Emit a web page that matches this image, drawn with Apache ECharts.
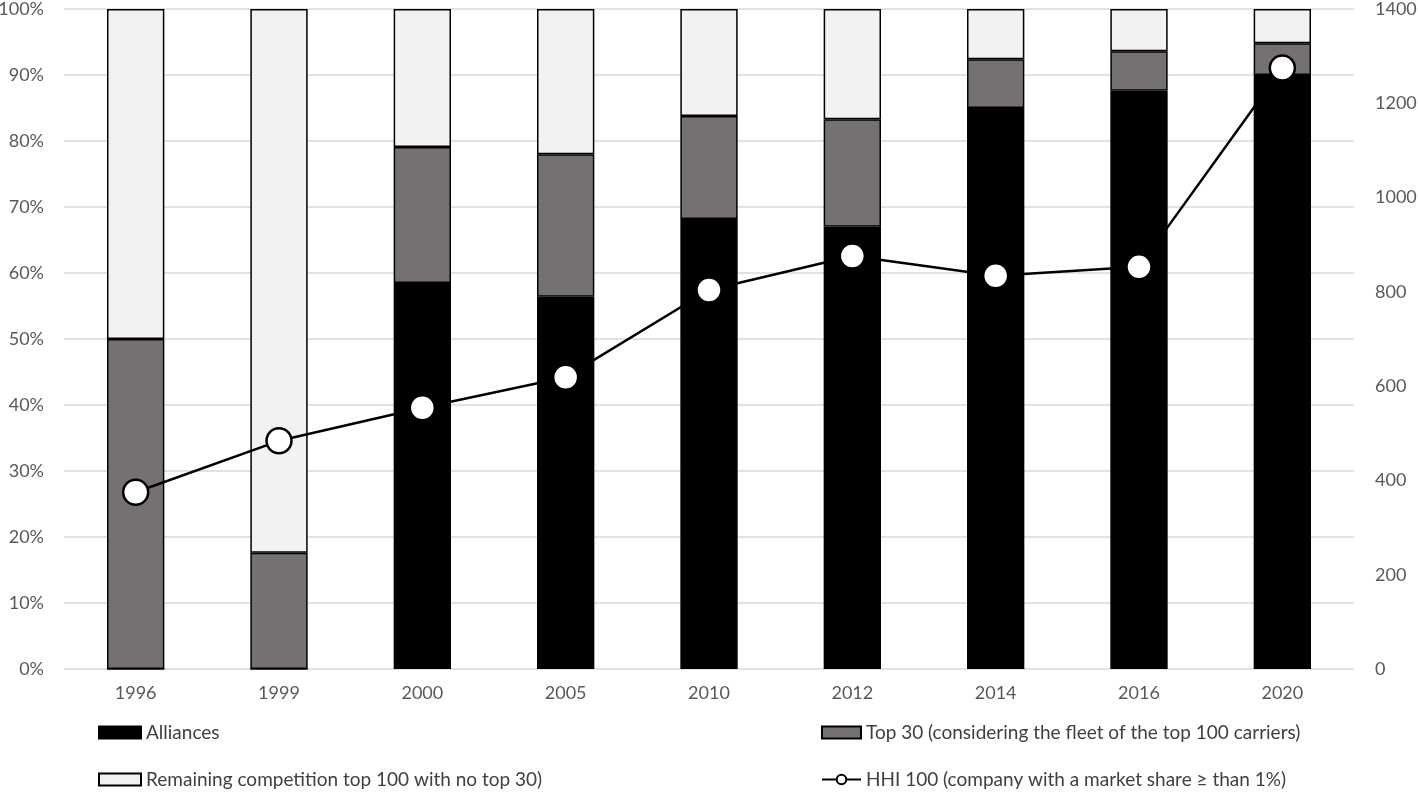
<!DOCTYPE html>
<html>
<head>
<meta charset="utf-8">
<script src="https://cdn.jsdelivr.net/npm/echarts@6/dist/echarts.min.js"></script>
<style>
html,body{margin:0;padding:0;background:#fff;}
#chart{width:1418px;height:792px;}
</style>
</head>
<body>
<div id="chart"></div>
<script>
const years = ['1996','1999','2000','2005','2010','2012','2014','2016','2020'];
const alliances = [0, 0, 58.5, 56.4, 68.2, 67.0, 85.0, 87.6, 90.0];
const top30 = [50.0, 17.6, 20.6, 21.6, 15.6, 16.3, 7.4, 6.0, 4.8];
const remaining = [50.0, 82.4, 20.9, 22.0, 16.2, 16.7, 7.6, 6.4, 5.2];
const hhi = [375, 484, 554, 619, 804, 876, 834, 853, 1275];
const leftTicks = [0, 100, 10];
const rightTicks = [0, 1400, 200];

const names = {
  a: 'Alliances',
  t: 'Top 30 (considering the fleet of the top 100 carriers)',
  r: 'Remaining competition top 100 with no top 30)',
  h: 'HHI 100 (company with a market share \u2265 than 1%)'
};
const FONT = 'Lato';
const chart = echarts.init(document.getElementById('chart'));
const legendText = {color: '#404040', fontSize: 19, fontFamily: FONT};
function lg(name, left, top, w, icon) {
  const item = icon ? {name: name, icon: icon} : {name: name};
  return {data: [item], left: left, top: top, itemWidth: w, itemHeight: 12, itemGap: 0, padding: 0, textStyle: legendText};
}
chart.setOption({
  animation: false,
  backgroundColor: '#fff',
  grid: {left: 64, right: 64, top: 9, bottom: 123, containLabel: false, outerBoundsMode: 'none'},
  legend: [
    lg(names.a, 98, 723, 42, 'rect'),
    lg(names.r, 98, 770, 42, 'rect'),
    lg(names.t, 821, 723, 39, 'rect'),
    lg(names.h, 821, 770, 39, null)
  ],
  xAxis: {
    type: 'category', data: years,
    axisLine: {show: false}, axisTick: {show: false},
    axisLabel: {color: '#595959', fontSize: 18, fontFamily: FONT, margin: 15}
  },
  yAxis: [
    {type: 'value', min: leftTicks[0], max: leftTicks[1], interval: leftTicks[2],
     axisLabel: {formatter: '{value}%', color: '#595959', fontSize: 18, fontFamily: FONT, margin: 20},
     axisLine: {show: false}, axisTick: {show: false},
     splitLine: {lineStyle: {color: '#d9d9d9', width: 1.5}}},
    {type: 'value', min: rightTicks[0], max: rightTicks[1], interval: rightTicks[2], position: 'right',
     axisLabel: {formatter: function (v) { return String(v); }, color: '#595959', fontSize: 18, fontFamily: FONT, margin: 21},
     axisLine: {show: false}, axisTick: {show: false}, splitLine: {show: false}}
  ],
  series: [
    {name: names.a, type: 'bar', stack: 's', data: alliances, barWidth: '40%',
     itemStyle: {color: '#000000', borderColor: '#000', borderWidth: 1.5}},
    {name: names.t, type: 'bar', stack: 's', data: top30,
     itemStyle: {color: '#767171', borderColor: '#000', borderWidth: 1.5}},
    {name: names.r, type: 'bar', stack: 's', data: remaining,
     itemStyle: {color: '#f2f2f2', borderColor: '#000', borderWidth: 1.5}},
    {name: names.h, type: 'line', yAxisIndex: 1, data: hhi, z: 5,
     symbol: 'circle', symbolSize: 25,
     lineStyle: {color: '#000', width: 2.5},
     itemStyle: {color: '#fff', borderColor: '#000', borderWidth: 2.5}}
  ]
});
</script>
</body>
</html>
